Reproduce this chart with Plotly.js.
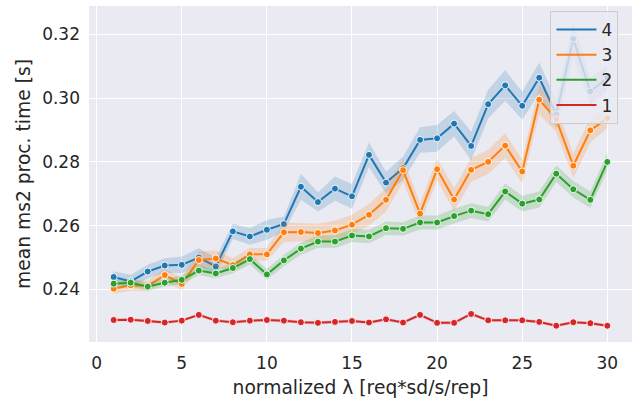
<!DOCTYPE html>
<html>
<head>
<meta charset="utf-8">
<script src="https://cdn.plot.ly/plotly-3.0.1.min.js"></script>
<style>html,body{margin:0;padding:0;background:#fff}</style>
</head>
<body>
<div id="chart" style="width:641px;height:403px"></div>
<script>
// normalized arrival rate λ
const lambdas = [1,2,3,4,5,6,7,8,9,10,11,12,13,14,15,16,17,18,19,20,21,22,23,24,25,26,27,28,29,30];

// mean ms2 processing time per replication count, with 95% CI half-widths
const mean4 = [0.2439,0.2425,0.2456,0.2475,0.2477,0.2500,0.2472,0.2582,0.2566,0.2587,0.2605,0.2722,0.2674,0.2716,0.2692,0.2822,0.2735,0.2780,0.2869,0.2874,0.2920,0.2850,0.2981,0.3040,0.2976,0.3064,0.2949,0.3186,0.3021,0.3063];
const ci4   = [0.0018,0.0020,0.0021,0.0023,0.0026,0.0029,0.0027,0.0024,0.0026,0.0031,0.0024,0.0041,0.0030,0.0038,0.0039,0.0039,0.0034,0.0037,0.0040,0.0042,0.0040,0.0045,0.0045,0.0048,0.0044,0.0048,0.0045,0.0056,0.0041,0.0041];

const mean3 = [0.2402,0.2413,0.2411,0.2445,0.2417,0.2492,0.2497,0.2476,0.2510,0.2510,0.2579,0.2580,0.2577,0.2585,0.2603,0.2634,0.2681,0.2774,0.2638,0.2777,0.2682,0.2775,0.2800,0.2851,0.2770,0.2995,0.2934,0.2788,0.2899,0.2937];
const ci3   = [0.0016,0.0017,0.0017,0.0019,0.0020,0.0027,0.0025,0.0022,0.0020,0.0020,0.0031,0.0029,0.0029,0.0030,0.0031,0.0034,0.0037,0.0038,0.0032,0.0034,0.0036,0.0037,0.0038,0.0039,0.0037,0.0046,0.0040,0.0039,0.0038,0.0031];

const mean2 = [0.2418,0.2421,0.2409,0.2421,0.2430,0.2459,0.2450,0.2467,0.2495,0.2447,0.2491,0.2528,0.2550,0.2550,0.2569,0.2566,0.2592,0.2590,0.2610,0.2610,0.2630,0.2647,0.2636,0.2707,0.2669,0.2682,0.2763,0.2714,0.2681,0.2800];
const ci2   = [0.0012,0.0012,0.0013,0.0013,0.0014,0.0015,0.0015,0.0016,0.0017,0.0017,0.0018,0.0019,0.0019,0.0020,0.0020,0.0021,0.0021,0.0021,0.0022,0.0022,0.0023,0.0023,0.0023,0.0025,0.0025,0.0025,0.0026,0.0026,0.0026,0.0028];

const mean1 = [0.2304,0.2305,0.2301,0.2296,0.2302,0.2320,0.2302,0.2297,0.2302,0.2304,0.2302,0.2297,0.2295,0.2298,0.2301,0.2296,0.2306,0.2296,0.2320,0.2295,0.2295,0.2323,0.2303,0.2303,0.2303,0.2298,0.2286,0.2297,0.2294,0.2286];
const ci1   = [0.0005,0.0005,0.0005,0.0005,0.0005,0.0005,0.0005,0.0005,0.0005,0.0005,0.0005,0.0005,0.0005,0.0005,0.0005,0.0005,0.0005,0.0005,0.0005,0.0005,0.0005,0.0005,0.0005,0.0005,0.0005,0.0005,0.0005,0.0005,0.0005,0.0005];

const seriesNames = ['4','3','2','1'];
const seriesColors = ['#1f77b4','#ff7f0e','#2ca02c','#d62728'];
const bandColors = ['rgba(31,119,180,0.2)','rgba(255,127,14,0.2)','rgba(44,160,44,0.2)','rgba(214,39,40,0.2)'];
const seriesMeans = [mean4, mean3, mean2, mean1];
const seriesCis = [ci4, ci3, ci2, ci1];

const traces = [];
seriesMeans.forEach((m, k) => {
  const ci = seriesCis[k];
  const lo = m.map((v, i) => v - ci[i]);
  const hi = m.map((v, i) => v + ci[i]);
  traces.push({x: lambdas, y: lo, mode: 'lines', line: {width: 0, color: bandColors[k]},
               showlegend: false, hoverinfo: 'skip'});
  traces.push({x: lambdas, y: hi, mode: 'lines', line: {width: 0, color: bandColors[k]},
               fill: 'tonexty', fillcolor: bandColors[k], showlegend: false, hoverinfo: 'skip'});
  traces.push({x: lambdas, y: m, mode: 'lines+markers', name: seriesNames[k],
               line: {color: seriesColors[k], width: 2},
               marker: {color: seriesColors[k], size: 7, line: {color: '#ffffff', width: 0.9}},
               showlegend: false});
});
// legend entries show plain line samples
seriesNames.forEach((n, k) => {
  traces.push({x: [null], y: [null], mode: 'lines', name: n, legendgroup: 'g' + n,
               line: {color: seriesColors[k], width: 2}, showlegend: true});
});

const txt = '#262626';
const fam = 'DejaVu Sans, sans-serif';
const layout = {
  width: 641, height: 403,
  margin: {l: 89, r: 9, t: 6, b: 61},
  paper_bgcolor: '#ffffff',
  plot_bgcolor: '#eaeaf2',
  font: {family: fam, color: txt, size: 17},
  showlegend: true,
  legend: {
    x: 0.975, y: 0.985, xanchor: 'right', yanchor: 'top',
    bgcolor: 'rgba(234,234,242,0.8)', bordercolor: '#cccccc', borderwidth: 1,
    font: {family: fam, size: 17, color: txt},
    traceorder: 'grouped', tracegroupgap: 0, itemwidth: 40
  },
  xaxis: {
    range: [-0.45, 31.45], tickmode: 'array', tickvals: [0,5,10,15,20,25,30],
    showgrid: true, gridcolor: '#ffffff', gridwidth: 1, zeroline: false,
    showline: false, ticks: '', ticklabelstandoff: 9,
    tickfont: {family: fam, size: 17, color: txt},
    title: {text: 'normalized λ [req*sd/s/rep]', font: {family: fam, size: 18.7, color: txt}, standoff: 8}
  },
  yaxis: {
    range: [0.2235, 0.3289], tickmode: 'array', tickvals: [0.24,0.26,0.28,0.30,0.32],
    ticktext: ['0.24','0.26','0.28','0.30','0.32'],
    showgrid: true, gridcolor: '#ffffff', gridwidth: 1, zeroline: false,
    showline: false, ticks: '', ticklabelstandoff: 8,
    tickfont: {family: fam, size: 17, color: txt},
    title: {text: 'mean ms2 proc. time [s]', font: {family: fam, size: 18.7, color: txt}, standoff: 6}
  }
};

Plotly.newPlot('chart', traces, layout, {displayModeBar: false, staticPlot: true});
</script>
</body>
</html>
